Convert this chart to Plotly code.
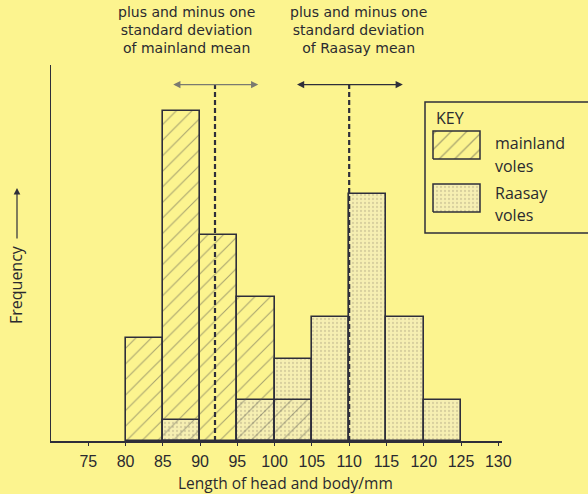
import plotly.graph_objects as go

# ---- data ----
mainland_bins = [80, 85, 90, 95, 100]
mainland_freq = [5, 16, 10, 7, 2]
raasay_bins = [85, 95, 100, 105, 110, 115, 120]
raasay_freq = [1, 2, 4, 6, 12, 6, 2]
tick_vals = [75, 80, 85, 90, 95, 100, 105, 110, 115, 120, 125, 130]
mainland_mean, mainland_sd = 92, 5.8
raasay_mean, raasay_sd = 110, 7.2
bin_width = 5

# ---- style ----
BG = "#FCF48F"
INK = "#2E2E3A"
W, H = 588, 494
ML, MR, MT, MB = 51, 86, 65, 53
PW, PH = W - ML - MR, H - MT - MB
YTOP = 18.25
ARROW_Y = 17.3


def px(xp):
    return (xp - ML) / PW


def py(yp):
    return (H - MB - yp) / PH


fig = go.Figure()

fig.add_trace(go.Bar(
    x=raasay_bins, y=raasay_freq, width=bin_width, offset=0,
    marker=dict(color="#F6EFB2", line=dict(color=INK, width=1.6),
                pattern=dict(shape=".", fgcolor="#B9B08A", bgcolor="#F6EFB2",
                             size=4, solidity=0.25)),
    showlegend=False, name="Raasay voles"))

fig.add_trace(go.Bar(
    x=mainland_bins, y=mainland_freq, width=bin_width, offset=0,
    marker=dict(color="rgba(0,0,0,0)", line=dict(color=INK, width=1.6),
                pattern=dict(shape="/", fgcolor="#55554F", bgcolor="rgba(0,0,0,0)",
                             size=11, solidity=0.1)),
    showlegend=False, name="mainland voles"))

# key swatches (overlay axes in plot-area fractions)
sx0, sx1 = px(433), px(480)
for (ya, yb), shape, bg, fg, size, sol in [
    ((py(159), py(131)), "/", BG, "#55554F", 11, 0.12),
    ((py(212), py(184)), ".", "#F6EFB2", "#B9B08A", 4, 0.25),
]:
    fig.add_trace(go.Scatter(
        x=[sx0, sx1, sx1, sx0, sx0], y=[ya, ya, yb, yb, ya],
        xaxis="x2", yaxis="y2", mode="lines", fill="toself",
        fillcolor=bg,
        fillpattern=dict(shape=shape, fgcolor=fg, bgcolor=bg, size=size, solidity=sol),
        line=dict(color=INK, width=1.5), showlegend=False, hoverinfo="skip"))

# mean lines
for m in (mainland_mean, raasay_mean):
    fig.add_shape(type="line", xref="x", yref="y", x0=m, x1=m, y0=0, y1=ARROW_Y,
                  line=dict(color=INK, width=2.2, dash="5px,3px"))

# sd arrows
for m, sd, col in ((mainland_mean, mainland_sd, "#7A7A70"), (raasay_mean, raasay_sd, INK)):
    fig.add_annotation(x=m + sd, y=ARROW_Y, ax=m - sd, ay=ARROW_Y, xref="x", yref="y",
                       axref="x", ayref="y", text="", showarrow=True, arrowhead=2,
                       arrowside="end+start", arrowsize=1.2, arrowwidth=1.2, arrowcolor=col)

TFONT = dict(family="DejaVu Sans", size=14, color="#2A2A30")
titles = [
    (186, "plus and minus one<br>standard deviation<br>of mainland mean"),
    (358, "plus and minus one<br>standard deviation<br>of Raasay mean"),
]
for xc, txt in titles:
    fig.add_annotation(xref="paper", yref="paper", x=px(xc), y=py(30),
                       showarrow=False, text=txt, font=TFONT,
                       xanchor="center", yanchor="middle")

# key box and text
fig.add_shape(type="rect", xref="paper", yref="paper", x0=px(425), x1=px(610),
              y0=py(233), y1=py(102), line=dict(color=INK, width=1.5))
KFONT = dict(family="Open Sans", size=16, color="#2A2A30")
for txt, xp, yp in [("KEY", 434, 118), ("mainland", 493, 143), ("voles", 493, 166),
                    ("Raasay", 493, 193), ("voles", 493, 215)]:
    fig.add_annotation(xref="paper", yref="paper", x=px(xp), y=py(yp), text=txt,
                       showarrow=False, xanchor="left", yanchor="middle", font=KFONT)

# axis titles
fig.add_annotation(xref="paper", yref="paper", x=px(285), y=py(483),
                   text="Length of head and body/mm", showarrow=False,
                   font=dict(family="Open Sans", size=15.5, color="#2A2A30"),
                   xanchor="center", yanchor="middle")
fig.add_annotation(xref="paper", yref="paper", x=px(16), y=py(285), text="Frequency",
                   textangle=-90, showarrow=False,
                   font=dict(family="Open Sans", size=16, color="#2A2A30"),
                   xanchor="center", yanchor="middle")
fig.add_annotation(xref="paper", yref="paper", x=px(17), y=py(188), ax=0, ay=52,
                   text="", showarrow=True, arrowhead=2, arrowsize=1.1, arrowwidth=1.2,
                   arrowcolor=INK)

fig.update_layout(
    width=W, height=H, autosize=False,
    margin=dict(l=ML, r=MR, t=MT, b=MB, pad=0),
    paper_bgcolor=BG, plot_bgcolor=BG,
    barmode="overlay", bargap=0,
    xaxis=dict(range=[70, 130.5], showgrid=False, zeroline=False, showline=True,
               linecolor=INK, linewidth=1.6, ticks="outside", ticklen=3, tickcolor=INK,
               tickvals=tick_vals, ticktext=[str(v) for v in tick_vals],
               tickfont=dict(family="Liberation Sans", size=16, color="#2A2A30"),
               ticklabelstandoff=2, fixedrange=True),
    yaxis=dict(range=[0, YTOP], showgrid=False, zeroline=False, showline=True,
               linecolor=INK, linewidth=1.4, showticklabels=False, ticks="",
               fixedrange=True),
    xaxis2=dict(range=[0, 1], overlaying="x", visible=False, fixedrange=True),
    yaxis2=dict(range=[0, 1], overlaying="y", visible=False, fixedrange=True),
)

fig.write_html(
    "out.html",
    config={"displayModeBar": False},
    post_script="document.body.style.margin='0';document.body.style.overflow='hidden';",
)
